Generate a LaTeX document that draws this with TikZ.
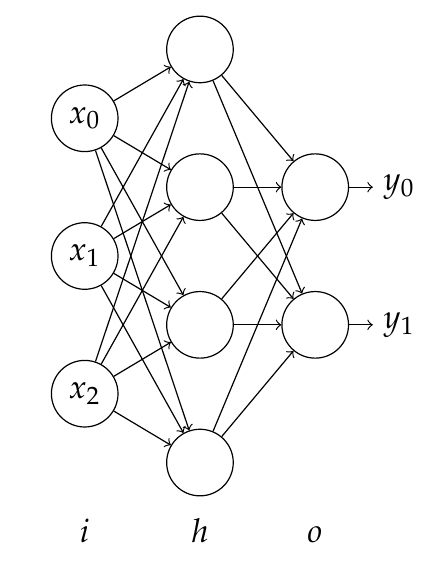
\documentclass[tikz,border=0pt]{standalone}
\usepackage{mathpazo}
\begin{document}
\begin{tikzpicture}[x=1.35cm,y=1.613cm,font=\fontsize{11}{13}\selectfont,
        neurona/.style={circle,draw,minimum size=0.78cm,inner sep=0pt}]
            % Marco de la figura
            \useasboundingbox (-0.735,-0.773) rectangle (2.926,3.359);

            % Capa de entrada
            \node[neurona] (i0) at (0,2.5) {$x_0$};
            \node[neurona] (i1) at (0,1.5) {$x_1$};
            \node[neurona] (i2) at (0,0.5) {$x_2$};

            % Capa oculta
            \node[neurona] (h0) at (1,3) {};
            \node[neurona] (h1) at (1,2) {};
            \node[neurona] (h2) at (1,1) {};
            \node[neurona] (h3) at (1,0) {};

            % Capa de salida
            \node[neurona] (o0) at (2,2) {};
            \node[neurona] (o1) at (2,1) {};

            % Etiquetas de salida
            \node[anchor=west] (y0) at (2.5,2) {$y_0$};
            \node[anchor=west] (y1) at (2.5,1) {$y_1$};

            % Conexiones entre capas
            \foreach \a in {0,1,2}
                \foreach \b in {0,1,2,3}
                    \draw[->] (i\a) -- (h\b);
            \foreach \b in {0,1,2,3}
                \foreach \c in {0,1}
                    \draw[->] (h\b) -- (o\c);
            \draw[->] (o0) -- (y0);
            \draw[->] (o1) -- (y1);

            % Nombres de las capas
            \node[anchor=base] (ci) at (0,-0.577) {$i$};
            \node[anchor=base] (ch) at (1,-0.577) {$h$};
            \node[anchor=base] (co) at (2,-0.577) {$o$};
        \end{tikzpicture}
\end{document}
